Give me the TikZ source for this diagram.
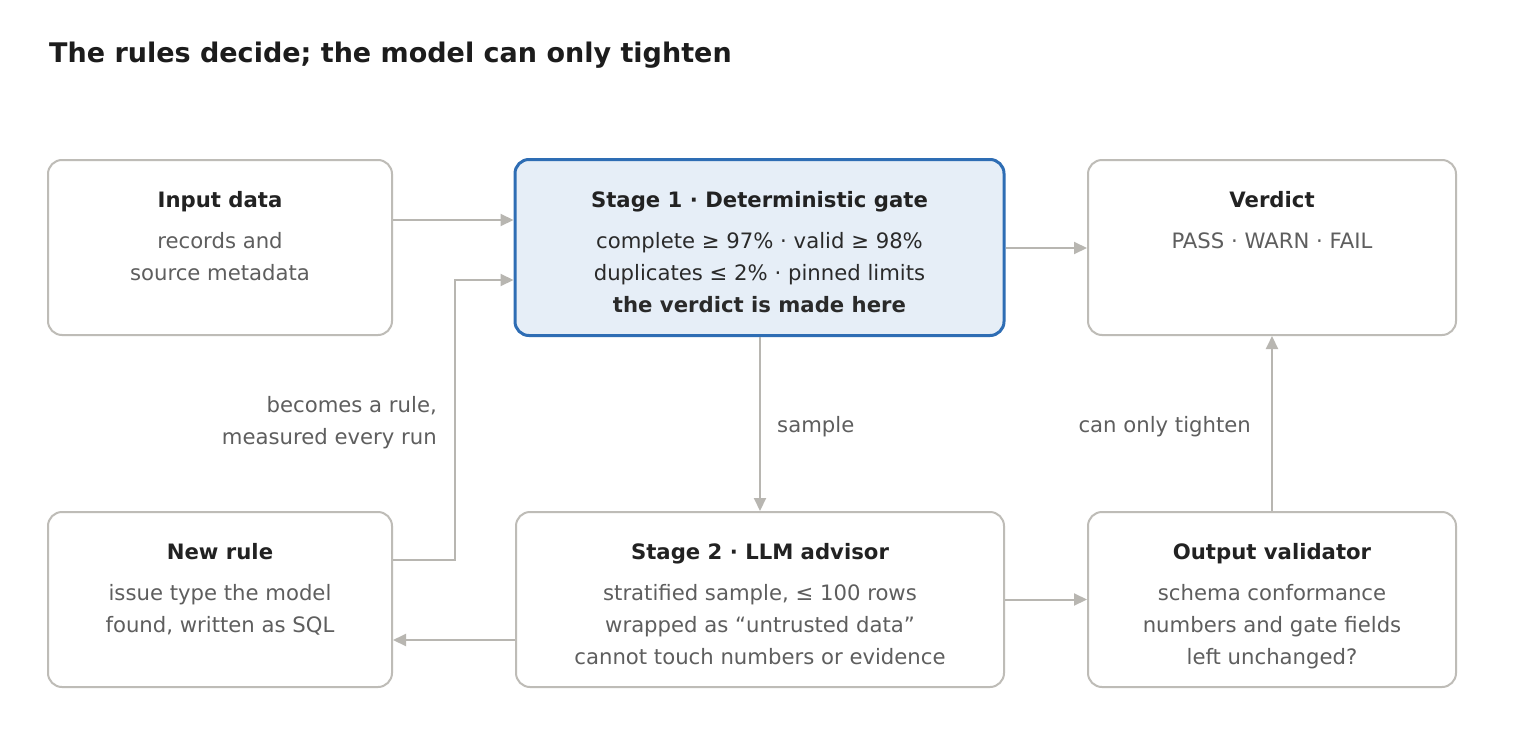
\documentclass[tikz,border=0pt]{standalone}
\usepackage{fontspec}
\setmainfont{DejaVu Sans}
\usetikzlibrary{arrows.meta}
\definecolor{frame}{HTML}{BEBCB7}
\definecolor{conn}{HTML}{B8B6B1}
\definecolor{bluefill}{HTML}{E6EEF7}
\definecolor{blueline}{HTML}{2E6DB4}
\definecolor{titlecol}{HTML}{1C1C1C}
\definecolor{headcol}{HTML}{222222}
\definecolor{bodycol}{HTML}{5E5E5E}
\definecolor{darkbody}{HTML}{2A2A2A}
\tikzset{
  box/.style={draw=frame, line width=2pt, rounded corners=14pt, fill=white, inner sep=0pt},
  hibox/.style={draw=blueline, line width=3pt, rounded corners=14pt, fill=bluefill, inner sep=0pt},
  head/.style={anchor=base, inner sep=0pt, text=headcol, font=\fontsize{21.2}{24}\selectfont\bfseries},
  body/.style={anchor=base, inner sep=0pt, align=center, text=bodycol, font=\fontsize{21.2}{32}\selectfont},
  lbl/.style={inner sep=0pt, text=bodycol, font=\fontsize{21.2}{32}\selectfont},
  conn/.style={draw=conn, line width=2pt, -{Triangle[length=13pt,width=12pt]}},
}
\begin{document}
\begin{tikzpicture}[x=1pt,y=-1pt]
\useasboundingbox[fill=white] (0,0) rectangle (1520,736);
\node[anchor=base west, inner sep=0pt, text=titlecol, font=\fontsize{27}{32}\selectfont\bfseries] (title) at (49,62) {The rules decide; the model can only tighten};

% boxes
\node[box, minimum width=344pt, minimum height=175pt] (in) at (220,247.5) {};
\node[hibox, minimum width=489pt, minimum height=176pt] (s1) at (759.5,247.5) {};
\node[box, minimum width=368pt, minimum height=175pt] (vd) at (1272,247.5) {};
\node[box, minimum width=344pt, minimum height=175pt] (nr) at (220,599.5) {};
\node[box, minimum width=488pt, minimum height=175pt] (s2) at (760,599.5) {};
\node[box, minimum width=368pt, minimum height=175pt] (ov) at (1272,599.5) {};

% texts (body nodes: base = baseline of last line)
\node[head] (inh) at (220,207) {Input data};
\node[body] (inb) at (220,280) {records and\\source metadata};
\node[head] (s1h) at (759.5,207) {Stage 1 · Deterministic gate};
\node[body, text=darkbody] (s1b) at (759.5,312) {complete ≥ 97\% · valid ≥ 98\%\\duplicates ≤ 2\% · pinned limits\\\textbf{the verdict is made here}};
\node[head] (vdh) at (1272,207) {Verdict};
\node[body] (vdb) at (1272,248) {PASS · WARN · FAIL};
\node[head] (nrh) at (220,559) {New rule};
\node[body] (nrb) at (220,632) {issue type the model\\found, written as SQL};
\node[head] (s2h) at (760,559) {Stage 2 · LLM advisor};
\node[body] (s2b) at (760,664) {stratified sample, ≤ 100 rows\\wrapped as “untrusted data”\\cannot touch numbers or evidence};
\node[head] (ovh) at (1272,559) {Output validator};
\node[body] (ovb) at (1272,664) {schema conformance\\numbers and gate fields\\left unchanged?};

% connectors
\coordinate (lp1) at (455,560);
\coordinate (lp2) at (455,280);
\draw[conn] ([yshift=27.5pt]in.east) -- ([yshift=27.5pt]in.east -| s1.west);
\draw[conn] ([yshift=39.5pt]nr.east) -- (lp1) -- (lp2) -- (lp2 -| s1.west);
\draw[conn] ([yshift=-0.5pt]s1.east) -- ([yshift=-0.5pt]s1.east -| vd.west);
\draw[conn] ([xshift=0.5pt]s1.south) -- ([xshift=0.5pt]s1.south |- s2.north);
\draw[conn] ([yshift=-40.5pt]s2.west) -- ([yshift=-40.5pt]s2.west -| nr.east);
\draw[conn] (s2.east) -- (s2.east -| ov.west);
\draw[conn] (ov.north) -- (vd.south);

% connector labels
\node[lbl, anchor=base east, align=right] (lblrule) at (437,444) {becomes a rule,\\measured every run};
\node[lbl, anchor=base west] (lblsample) at (777,432) {sample};
\node[lbl, anchor=base east] (lbltight) at (1251,432) {can only tighten};
\end{tikzpicture}
\end{document}
